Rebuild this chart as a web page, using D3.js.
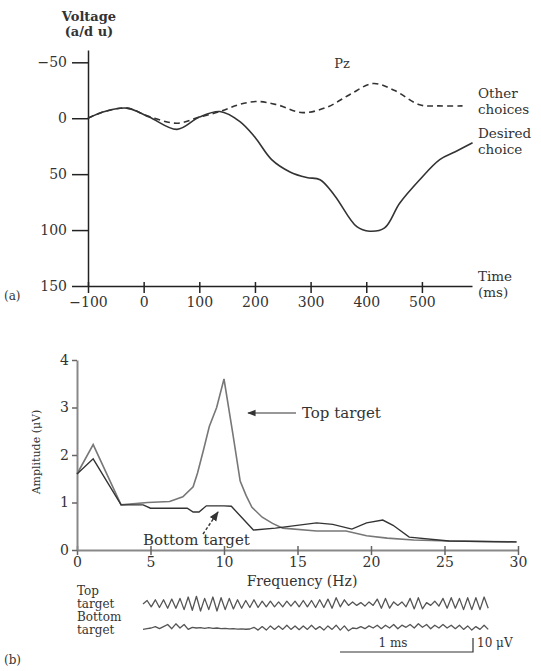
<!DOCTYPE html>
<html><head><meta charset="utf-8">
<script src="https://cdn.jsdelivr.net/npm/d3@7"></script>
<style>
html,body{margin:0;padding:0;background:#fff;}
text{font-family:"DejaVu Serif","Liberation Serif",serif;fill:#333;}
</style></head>
<body>
<script>
// ---------- Panel (a) data ----------
const desiredTime = [-100,-70,-30,10,60,100,137,173,200,230,263,293,317,343,383,406,433,460,496,532,560,591];
const desiredVolt = [0,-6,-9,-1,10,-1,-6,3,17,37,48,53,55,69,97,101,98,76,55,37,30,22];
const otherTime = [-100,-70,-30,10,60,100,137,170,203,240,286,330,370,412,450,496,530,573];
const otherVolt = [0,-6,-9,-1.5,4.5,-1,-6,-12,-15,-12,-5,-10,-21,-31,-25,-12,-11,-11];
const timeTicks = [-100,0,100,200,300,400,500];
const voltTicks = [-50,0,50,100,150];

// ---------- Panel (b) data ----------
const freqTop = [0,1.1,3.0,4.8,6.3,7.2,7.9,8.2,8.6,9.0,9.5,10,10.6,11.1,11.5,11.9,12.6,13.3,14.0,16.3,18.3,19.7,21.1,22.9,25.3,29.9];
const ampTop  = [1.6,2.22,0.95,1.0,1.02,1.12,1.33,1.62,2.1,2.6,3.0,3.6,2.45,1.45,1.15,0.9,0.69,0.56,0.46,0.4,0.4,0.3,0.25,0.21,0.19,0.17];
const freqBottom = [0,1.1,3.0,4.5,5.0,7.5,7.9,8.3,8.8,10,10.5,12,13.5,16.3,17.4,18.7,19.7,20.8,21.5,22.6,25.3,29.9];
const ampBottom  = [1.6,1.92,0.95,0.95,0.88,0.88,0.8,0.8,0.93,0.93,0.92,0.42,0.46,0.57,0.54,0.44,0.57,0.63,0.52,0.27,0.19,0.17];
const freqTicks = [0,5,10,15,20,25,30];
const ampTicks = [0,1,2,3,4];

// raw EEG traces (µV), successive half-cycle samples
const traceTop = [0,2.5,-2,3,-2.5,3,-3,3.5,-3,
  4,-4,5,-4.5,5.5,-5,4,-4,5,-5,4.5,-4,4,-3.5,
  3,-3,2.5,-2.5,3,-2.5,2,-2,
  2,-2,1.5,-2,2,-1.5,2,-2,2.5,-2,2.5,-2.5,3,-2.5,
  3.5,-3,4.5,-2,3,-1,1.5,-1,
  1,-1.5,1.5,-1,3.5,-3,4,-3,
  1.5,-1,1.5,-2,4,-3.5,4.5,-3.5,
  1,-1,2,-1.5,4,-3,4.5,-3,
  4,-4,4.5,-4,4.5,-4,5,-3];
const traceBottom = [-1,-0.5,0,1,-0.5,1,
  2.5,-0.5,3,0,2.5,-1,
  0.5,0,0.3,-0.2,0.2,-0.3,0,-0.5,-0.3,-0.6,-0.4,-0.8,-0.6,-0.9,-0.7,
  0.5,-1.5,1,-1.5,1.5,-1,1.5,-1,2,-1,1.5,-1.2,1.5,-1,2,-1,1,-1.5,1.5,-1,2,-1.5,1.5,
  -2,0,-0.5,1,-0.5,1.5,0,2,-0.5,2,0,2.5,-0.5,2,0.5,2.5,0,3,0.5,2.5,-0.5,2,0,2.5,0,2,-0.5,2,-1,1.5,-1.5,1,-1,2,-1];
const traceStepMs = 0.0309; // ms per half-cycle sample

const W = 541, H = 671;
const svg = d3.select("body").append("svg").attr("width",W).attr("height",H);
const defs = svg.append("defs");
defs.append("marker").attr("id","arr").attr("viewBox","0 0 10 10").attr("refX",9).attr("refY",5)
  .attr("markerWidth",7).attr("markerHeight",7).attr("orient","auto-start-reverse")
  .append("path").attr("d","M0,1 L10,5 L0,9 Z").attr("fill","#333");

const fmtMinus = d=>d<0?"\u2212"+(-d):String(d);

// ================= Panel (a) =================
const gA = svg.append("g");
const xA = d3.scaleLinear().domain([-100,590]).range([88,472]);
const yA = d3.scaleLinear().domain([-61,150]).range([50,286]);

const xAxisA = gA.append("g").attr("transform",`translate(0,${yA(150)})`)
  .call(d3.axisBottom(xA).tickValues(timeTicks).tickSize(7).tickSizeOuter(0).tickFormat(fmtMinus));
xAxisA.select(".domain").attr("stroke","#222").attr("stroke-width",1.5);
xAxisA.selectAll(".tick line").attr("y1",-4).attr("y2",7).attr("stroke","#222").attr("stroke-width",1.5);
xAxisA.selectAll(".tick text").attr("y",11).attr("font-size",14).attr("font-family","DejaVu Serif").attr("fill","#333");

const yAxisA = gA.append("g").attr("transform",`translate(${xA(-100)},0)`)
  .call(d3.axisLeft(yA).tickValues(voltTicks).tickSize(16).tickSizeOuter(0).tickFormat(fmtMinus));
yAxisA.select(".domain").attr("stroke","#222").attr("stroke-width",1.5);
yAxisA.selectAll(".tick line").attr("stroke","#222").attr("stroke-width",1.5);
yAxisA.selectAll(".tick text").attr("x",-21).attr("font-size",14).attr("font-family","DejaVu Serif").attr("fill","#333");

const lineA = d3.line().curve(d3.curveCatmullRom.alpha(0.5));
gA.append("path").attr("d",lineA(otherTime.map((t,i)=>[xA(t),yA(otherVolt[i])])))
  .attr("fill","none").attr("stroke","#333").attr("stroke-width",1.6).attr("stroke-dasharray","6,4");
gA.append("path").attr("d",lineA(desiredTime.map((t,i)=>[xA(t),yA(desiredVolt[i])])))
  .attr("fill","none").attr("stroke","#333").attr("stroke-width",1.6);

function label(g,x,y,lines,opts={}){
  const t=g.append("text").attr("x",x).attr("y",y).attr("font-size",opts.size||14)
    .attr("text-anchor",opts.anchor||"start");
  if(opts.weight) t.attr("font-weight",opts.weight);
  if(opts.fill) t.attr("fill",opts.fill);
  lines.forEach((s,i)=>t.append("tspan").attr("x",x).attr("dy",i?(opts.lh||14):0).text(s));
  return t;
}
label(gA,89,21,["Voltage","(a/d u)"],{anchor:"middle",size:13,weight:"bold",lh:15});
label(gA,342,68,["Pz"],{anchor:"middle",size:13});
label(gA,478,98,["Other","choices"],{size:13.5,lh:15.5});
label(gA,478,138,["Desired","choice"],{size:13.5,lh:15.5});
label(gA,478,281,["Time","(ms)"],{size:13.5,lh:15.5});
label(gA,4,300,["(a)"],{size:12});

// ================= Panel (b) =================
const gB = svg.append("g");
const xB = d3.scaleLinear().domain([0,30]).range([77,518]);
const yB = d3.scaleLinear().domain([0,4]).range([550,360]);

const xAxisB = gB.append("g").attr("transform",`translate(0,${yB(0)})`)
  .call(d3.axisBottom(xB).tickValues(freqTicks).tickSize(5).tickSizeOuter(0).tickFormat(d3.format("d")));
xAxisB.select(".domain").attr("stroke","#888").attr("stroke-width",2);
xAxisB.selectAll(".tick line").attr("y1",-4).attr("y2",5).attr("stroke","#666").attr("stroke-width",1.5);
xAxisB.selectAll(".tick text").attr("y",7).attr("font-size",14).attr("font-family","DejaVu Serif").attr("fill","#444");

const yAxisB = gB.append("g").attr("transform",`translate(${xB(0)},0)`)
  .call(d3.axisLeft(yB).tickValues(ampTicks).tickSize(5).tickSizeOuter(0).tickFormat(d3.format("d")));
yAxisB.select(".domain").attr("stroke","#888").attr("stroke-width",2);
yAxisB.selectAll(".tick line").attr("stroke","#666").attr("stroke-width",1.5);
yAxisB.selectAll(".tick text").attr("x",-8).attr("font-size",14).attr("font-family","DejaVu Serif").attr("fill","#444");

const lineB = d3.line();
gB.append("path").attr("d",lineB(freqTop.map((f,i)=>[xB(f),yB(ampTop[i])])))
  .attr("fill","none").attr("stroke","#777").attr("stroke-width",1.6);
gB.append("path").attr("d",lineB(freqBottom.map((f,i)=>[xB(f),yB(ampBottom[i])])))
  .attr("fill","none").attr("stroke","#333").attr("stroke-width",1.4);

gB.append("text").attr("transform",`translate(40,452) rotate(-90)`).attr("text-anchor","middle")
  .attr("font-size",11).attr("fill","#444").text("Amplitude (\u03bcV)");
gB.append("text").attr("x",302).attr("y",586).attr("text-anchor","middle").attr("font-size",14)
  .attr("fill","#444").text("Frequency (Hz)");

// annotations
gB.append("line").attr("x1",296).attr("y1",413).attr("x2",248).attr("y2",413)
  .attr("stroke","#333").attr("stroke-width",1.2).attr("marker-end","url(#arr)");
label(gB,302,418,["Top target"],{size:15,fill:"#444"});
gB.append("line").attr("x1",203).attr("y1",534).attr("x2",218).attr("y2",512)
  .attr("stroke","#333").attr("stroke-width",1.4).attr("stroke-dasharray","3,2").attr("marker-end","url(#arr)");
label(gB,143,545,["Bottom target"],{size:15,fill:"#444"});

// raw traces
const xT = d3.scaleLinear().domain([0,1]).range([340,473]); // 1 ms scale
const yT = d3.scaleLinear().domain([0,10]).range([0,-14]);  // 10 µV scale
const t0 = 143;
function drawTrace(vals, cy){
  gB.append("path").attr("d", d3.line()(vals.map((v,i)=>[t0 + xT(i*traceStepMs)-xT(0), cy + yT(v)])))
    .attr("fill","none").attr("stroke","#555").attr("stroke-width",1.3).attr("stroke-linejoin","round");
}
drawTrace(traceTop, 604);
drawTrace(traceBottom, 628);
label(gB,77,595,["Top","target"],{size:12,lh:13});
label(gB,77,621,["Bottom","target"],{size:12,lh:13});

// scale bar
gB.append("path").attr("d",`M${xT(0)},652 L${xT(1)},652 L${xT(1)},${652+yT(10)}`)
  .attr("fill","none").attr("stroke","#333").attr("stroke-width",1.2);
label(gB,393,647,["1 ms"],{size:12,anchor:"middle"});
label(gB,xT(1)+4,647,["10 \u03bcV"],{size:12});
label(gB,4,664,["(b)"],{size:12});
</script>
</body></html>
